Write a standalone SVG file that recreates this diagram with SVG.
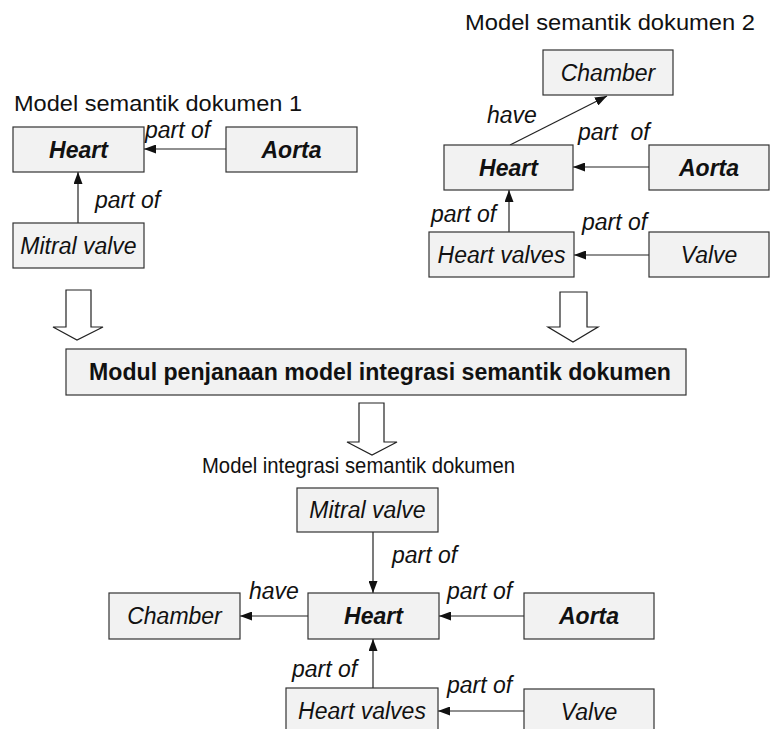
<svg xmlns="http://www.w3.org/2000/svg" width="770" height="729" viewBox="0 0 770 729">
<style>
.box{fill:#f2f2f2;stroke:#333;stroke-width:1.2}
.t{font-family:"Liberation Sans",Arial,sans-serif;font-size:23px;fill:#111}
.n{font-style:italic;text-anchor:middle}
.b{font-weight:bold}
.lbl{font-family:"Liberation Sans",Arial,sans-serif;font-size:23px;font-style:italic;fill:#111;white-space:pre}
.ttl{font-family:"Liberation Sans",Arial,sans-serif;font-size:22px;fill:#111}
.c{stroke:#222;stroke-width:1.2;fill:none;marker-end:url(#ah)}
.hollow{fill:#fff;stroke:#222;stroke-width:1.2}
</style>
<defs>
<marker id="ah" markerUnits="userSpaceOnUse" markerWidth="12" markerHeight="9" refX="12" refY="4.5" orient="auto">
<path d="M0,0 L12,4.5 L0,9 z" fill="#111"/>
</marker>
</defs>
<rect width="770" height="729" fill="#fff"/>

<text class="ttl" x="14" y="111" textLength="288" lengthAdjust="spacingAndGlyphs">Model semantik dokumen 1</text>
<text class="ttl" x="465" y="30" textLength="290" lengthAdjust="spacingAndGlyphs">Model semantik dokumen 2</text>
<text class="ttl" x="202" y="473" textLength="313" lengthAdjust="spacingAndGlyphs">Model integrasi semantik dokumen</text>

<g id="connectors">
<line class="c" x1="226" y1="149" x2="144" y2="149"/>
<line class="c" x1="78" y1="223" x2="78" y2="172"/>
<line class="c" x1="510" y1="145" x2="607" y2="96"/>
<line class="c" x1="649" y1="167" x2="573" y2="167"/>
<line class="c" x1="509" y1="232" x2="509" y2="190"/>
<line class="c" x1="649" y1="255" x2="574" y2="255"/>
<line class="c" x1="373" y1="532" x2="373" y2="593"/>
<line class="c" x1="308" y1="616" x2="240" y2="616"/>
<line class="c" x1="524" y1="616" x2="439" y2="616"/>
<line class="c" x1="373" y1="688" x2="373" y2="639"/>
<line class="c" x1="524" y1="711" x2="438" y2="711"/>
<polygon class="hollow" points="66,290 91,290 91,327 103,327 77,340 53,327 66,327"/>
<polygon class="hollow" points="560,292 587,292 587,327 598,327 573,342 548,327 560,327"/>
<polygon class="hollow" points="359,403 384,403 384,442 397,442 372,455 347,442 359,442"/>
<text class="lbl" x="145" y="138">part of</text>
<text class="lbl" x="95" y="208">part of</text>
<text class="lbl" x="487" y="123">have</text>
<text class="lbl" x="578" y="140">part  of</text>
<text class="lbl" x="431" y="222">part of</text>
<text class="lbl" x="582" y="230">part of</text>
<text class="lbl" x="392" y="563">part of</text>
<text class="lbl" x="249" y="599">have</text>
<text class="lbl" x="447" y="599">part of</text>
<text class="lbl" x="292" y="677">part of</text>
<text class="lbl" x="447" y="693">part of</text>
</g>

<g id="heart1"><rect class="box" x="13" y="127" width="131" height="45"/><text class="t n b" x="78.5" y="158">Heart</text></g>
<g id="aorta1"><rect class="box" x="226" y="127" width="131" height="45"/><text class="t n b" x="291.5" y="158">Aorta</text></g>
<g id="mitral1"><rect class="box" x="13" y="223" width="131" height="45"/><text class="t n" x="78.5" y="254">Mitral valve</text></g>

<g id="chamber2"><rect class="box" x="543" y="50" width="130" height="45"/><text class="t n" x="608" y="81">Chamber</text></g>
<g id="heart2"><rect class="box" x="444" y="145" width="129" height="45"/><text class="t n b" x="508.5" y="176">Heart</text></g>
<g id="aorta2"><rect class="box" x="649" y="145" width="120" height="45"/><text class="t n b" x="709" y="176">Aorta</text></g>
<g id="heartvalves2"><rect class="box" x="429" y="232" width="145" height="45"/><text class="t n" x="501.5" y="263">Heart valves</text></g>
<g id="valve2"><rect class="box" x="649" y="232" width="120" height="45"/><text class="t n" x="709" y="263">Valve</text></g>

<g id="modul"><rect class="box" x="66" y="349" width="620" height="46"/><text class="t b" x="380" y="380" text-anchor="middle" textLength="582" lengthAdjust="spacingAndGlyphs">Modul penjanaan model integrasi semantik dokumen</text></g>

<g id="mitral3"><rect class="box" x="297" y="488" width="141" height="44"/><text class="t n" x="367.5" y="518">Mitral valve</text></g>
<g id="chamber3"><rect class="box" x="109" y="593" width="131" height="46"/><text class="t n" x="174.5" y="624">Chamber</text></g>
<g id="heart3"><rect class="box" x="308" y="593" width="131" height="46"/><text class="t n b" x="373.5" y="624">Heart</text></g>
<g id="aorta3"><rect class="box" x="524" y="593" width="130" height="46"/><text class="t n b" x="589" y="624">Aorta</text></g>
<g id="heartvalves3"><rect class="box" x="286" y="688" width="152" height="46"/><text class="t n" x="362" y="719">Heart valves</text></g>
<g id="valve3"><rect class="box" x="524" y="689" width="130" height="46"/><text class="t n" x="589" y="720">Valve</text></g>
</svg>
